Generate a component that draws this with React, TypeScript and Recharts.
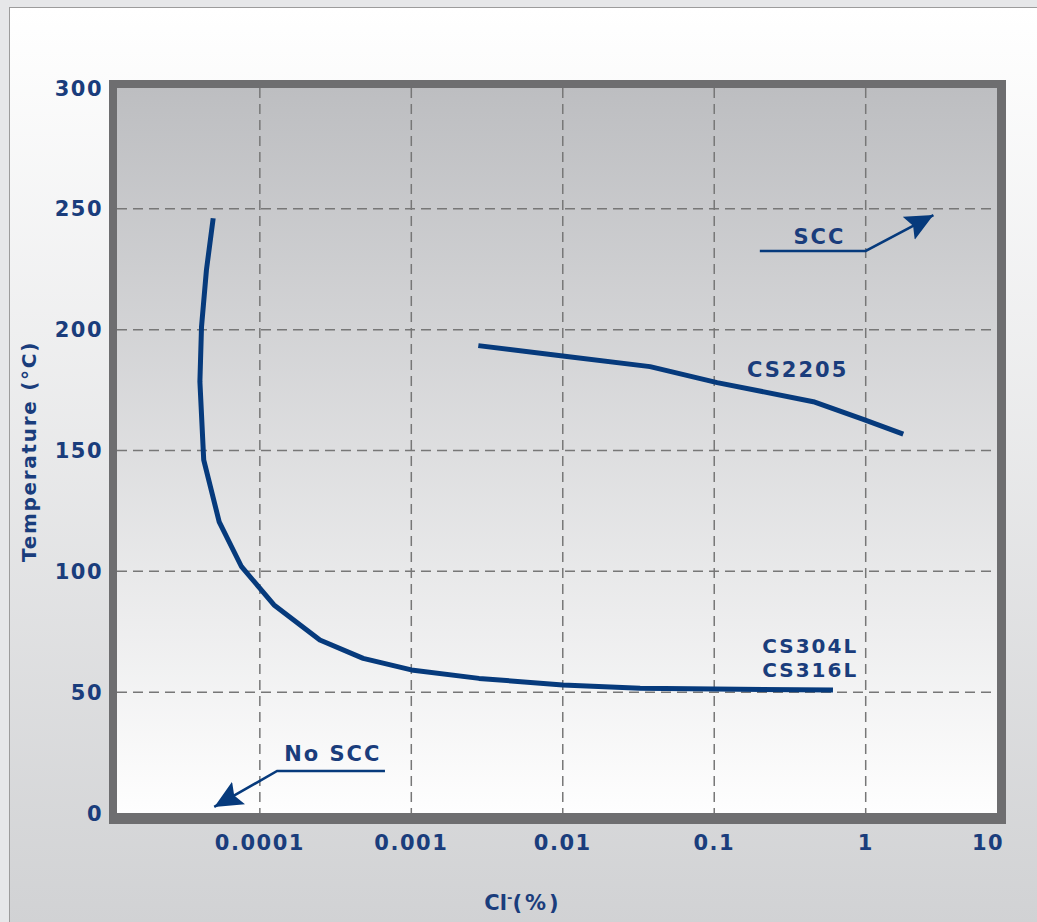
import React from 'react'
import { LineChart, Line, XAxis, YAxis, CartesianGrid, ReferenceArea, ReferenceDot, Label } from 'recharts'

// axis extents (log x: the frame ends a bit before 10, the "10" label sits at the edge)
const X_MIN = 0.0000114
const X_MAX = 7.36
const xTicks = [0.0001, 0.001, 0.01, 0.1, 1, X_MAX]
const xTickLabels = ['0.0001', '0.001', '0.01', '0.1', '1', '10']
const yTicks = [0, 50, 100, 150, 200, 250, 300]
// inner grid lines only (edges are covered by the frame)
const xGrid = [0.0001, 0.001, 0.01, 0.1, 1]
const yGrid = [50, 100, 150, 200, 250]

// CS304L / CS316L curve
const cs304Cl = [0.0000492, 0.0000444, 0.0000412, 0.0000402, 0.0000426, 0.0000539, 0.0000757, 0.000124, 0.000249, 0.000481, 0.001, 0.0028, 0.01, 0.0324, 0.1, 0.608]
const cs304Temp = [246.1, 224.7, 201.2, 178.5, 146.1, 120.5, 101.9, 86.1, 71.6, 64.0, 59.2, 55.7, 53.0, 51.6, 51.3, 50.9]

// CS2205 curve
const cs2205Cl = [0.00277, 0.01, 0.0377, 0.1045, 0.451, 0.964, 1.77]
const cs2205Temp = [193.4, 189.1, 184.7, 178.1, 170.2, 162.9, 156.8]

// arrows
const sccCl = [0.2, 1.0, 2.8]
const sccTemp = [232.6, 232.6, 247.4]
const noSccCl = [0.00067, 0.00013, 0.00005]
const noSccTemp = [17.4, 17.4, 2.5]

const zip = (xs: number[], ys: number[]) => xs.map((x, i) => ({ cl: x, t: ys[i] }))
const cs304Data = zip(cs304Cl, cs304Temp)
const cs2205Data = zip(cs2205Cl, cs2205Temp)
const sccData = zip(sccCl, sccTemp)
const noSccData = zip(noSccCl, noSccTemp)

const NAVY = '#063a7c'
const TEXT = '#1a3d7c'
const FONT = '"DejaVu Sans", Verdana, sans-serif'

const textStyle = { fill: TEXT, fontFamily: FONT, fontWeight: 'bold' as const, fontSize: 21 }

const XTick = (p: any) => {
  const i = xTicks.indexOf(p.payload.value)
  const last = i === xTicks.length - 1
  return (
    <text x={p.x + (last ? -9 : 0)} y={p.y + 37} textAnchor="middle" letterSpacing={1.5} {...textStyle}>
      {xTickLabels[i]}
    </text>
  )
}

const YTick = (p: any) => (
  <text x={p.x - 14} y={p.y + 7.5} textAnchor="end" letterSpacing={1.5} {...textStyle}>
    {p.payload.value}
  </text>
)

const tag = (txt: string, size = 21) => (p: any) => (
  <text x={p.cx} y={p.cy + size * 0.36} textAnchor="middle" letterSpacing={2} {...textStyle} fontSize={size}>
    {txt}
  </text>
)

const Frame = (p: any) => {
  const { x, y, width: w, height: h } = p
  const d =
    `M${x - 8},${y - 8} H${x + w + 9} V${y + h + 11} H${x - 8} Z ` +
    `M${x},${y} V${y + h} H${x + w} V${y} Z`
  return <path d={d} fill="#6e6e70" fillRule="evenodd" />
}

export default function App() {
  return (
    <div style={{ position: 'absolute', left: 0, top: 0, width: 1037, height: 922, background: '#e6e7e9', overflow: 'hidden' }}>
      <div
        style={{
          position: 'absolute', left: 9, top: 7, right: -4, bottom: -4,
          border: '1.5px solid #9c9c9c', background: 'linear-gradient(#ffffff, #d1d2d4)',
        }}
      />
      <div style={{ position: 'absolute', left: 0, top: 0 }}>
        <LineChart width={1037} height={922} margin={{ top: 88, right: 40, bottom: 49, left: 17 }}>
          <defs>
            <linearGradient id="plotBg" x1="0" y1="0" x2="0" y2="1">
              <stop offset="0%" stopColor="#bdbec1" />
              <stop offset="100%" stopColor="#fefefe" />
            </linearGradient>
            <marker id="arrowHead" markerUnits="userSpaceOnUse" markerWidth={30} markerHeight={28}
              viewBox="0 0 30 28" refX={28} refY={13} orient="auto">
              <path d="M0,0 L28,13 L0,26 L5,13 Z" fill={NAVY} />
            </marker>
          </defs>
          <CartesianGrid
            fill="url(#plotBg)" fillOpacity={1} stroke="#777" strokeWidth={1.5} strokeDasharray="10 6"
            horizontalValues={yGrid} verticalValues={xGrid}
          />
          <XAxis
            dataKey="cl" type="number" scale="log" domain={[X_MIN, X_MAX]} allowDataOverflow
            ticks={xTicks} interval={0} tick={<XTick />} tickLine={false} axisLine={false}
            tickSize={0} tickMargin={0} height={60}
          >
            <Label
              content={({ viewBox }: any) => (
                <text x={viewBox.x + 406} y={viewBox.y + 97} textAnchor="middle" {...textStyle}>
                  <tspan>Cl</tspan>
                  <tspan dy={-8} fontSize={13}>-</tspan>
                  <tspan dy={8} letterSpacing={3}>(%)</tspan>
                </text>
              )}
            />
          </XAxis>
          <YAxis
            dataKey="t" type="number" domain={[0, 300]} ticks={yTicks} interval={0}
            tick={<YTick />} tickLine={false} axisLine={false} tickSize={0} tickMargin={0} width={100}
          >
            <Label
              content={({ viewBox }: any) => {
                const cx = viewBox.x + 12
                const cy = viewBox.y + viewBox.height / 2 + 1
                return (
                  <text x={cx} y={cy} transform={`rotate(-90 ${cx} ${cy})`} textAnchor="middle"
                    dominantBaseline="central" letterSpacing={1.7} {...textStyle} fontSize={20}>
                    Temperature (°C)
                  </text>
                )
              }}
            />
          </YAxis>
          <ReferenceArea y1={0} y2={300} shape={<Frame />} ifOverflow="visible" />
          <Line data={cs304Data} dataKey="t" type="linear" stroke={NAVY} strokeWidth={5} strokeLinejoin="round" dot={false} isAnimationActive={false} />
          <Line data={cs2205Data} dataKey="t" type="linear" stroke={NAVY} strokeWidth={5} strokeLinejoin="round" dot={false} isAnimationActive={false} />
          <Line data={sccData} dataKey="t" type="linear" stroke={NAVY} strokeWidth={2.5} dot={false} markerEnd="url(#arrowHead)" isAnimationActive={false} />
          <Line data={noSccData} dataKey="t" type="linear" stroke={NAVY} strokeWidth={2.5} dot={false} markerEnd="url(#arrowHead)" isAnimationActive={false} />
          <ReferenceDot x={0.495} y={238.6} shape={tag('SCC')} />
          <ReferenceDot x={0.355} y={183.7} shape={tag('CS2205')} />
          <ReferenceDot x={0.43} y={69.3} shape={tag('CS304L', 20)} />
          <ReferenceDot x={0.43} y={59.2} shape={tag('CS316L', 20)} />
          <ReferenceDot x={0.000303} y={24.6} shape={tag('No SCC')} />
        </LineChart>
      </div>
    </div>
  )
}
